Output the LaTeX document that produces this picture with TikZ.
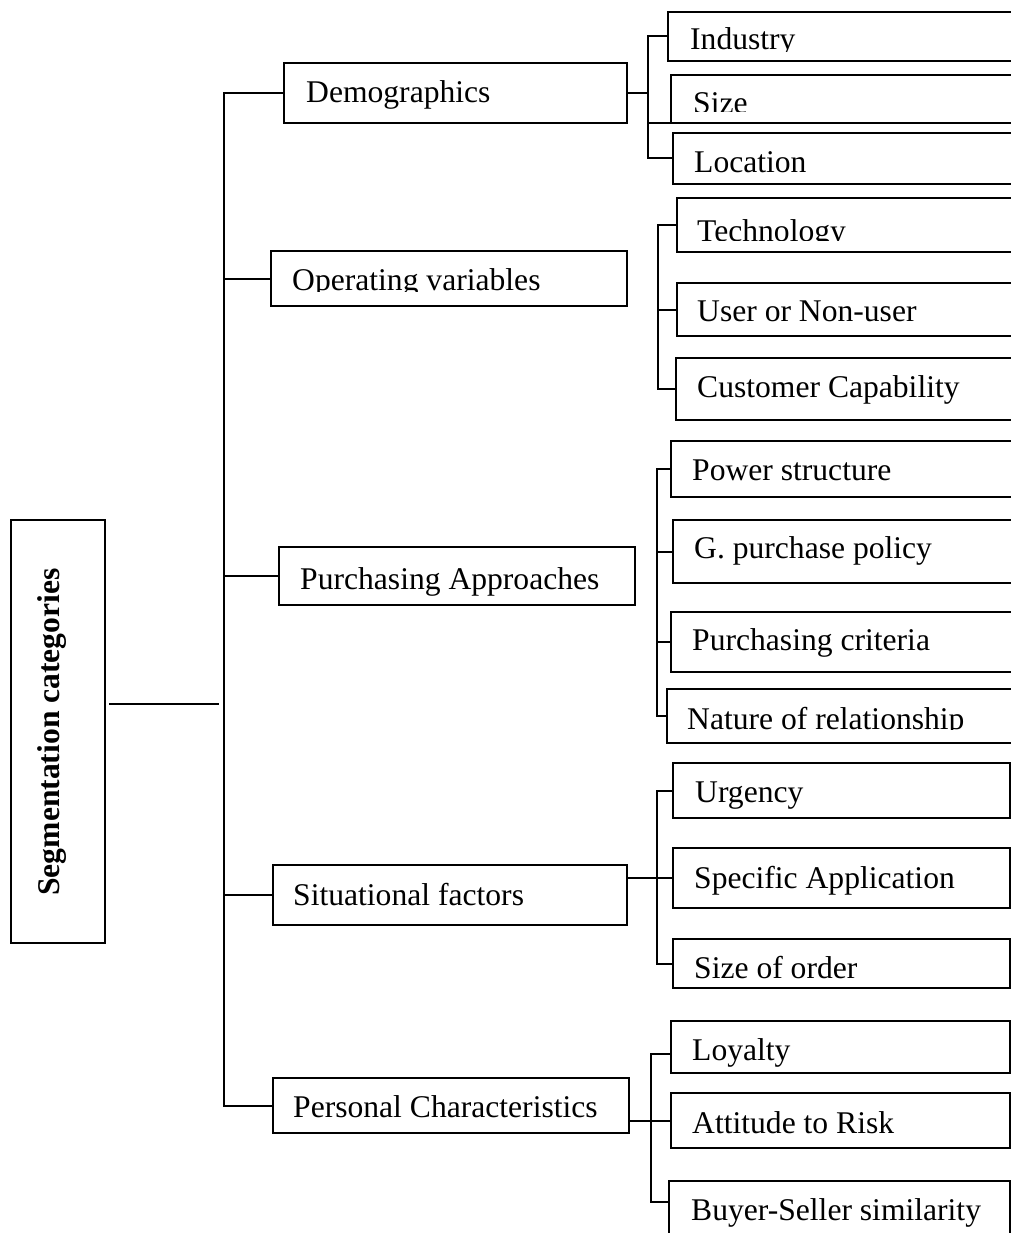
\documentclass[tikz,border=0pt]{standalone}
\usepackage{fontspec}
\setmainfont{Liberation Serif}
\usetikzlibrary{calc}

% box with a left-aligned label set on a given baseline
\newcommand{\segbox}[8]{%
  \node[box, minimum width={#4-#2}, minimum height={#5-#3}] (#1) at (#2,#3) {};
  \node[lbl] (#1-t) at (#6,#7) {#8};}
% same, but the label is cut off below a given height
\newcommand{\segcutbox}[9]{%
  \node[box, minimum width={#4-#2}, minimum height={#5-#3}] (#1) at (#2,#3) {};
  \begin{scope}
    \clip (#2,#3) rectangle (#4,#9);
    \node[lbl] (#1-t) at (#6,#7) {#8};
  \end{scope}}

\begin{document}
\begin{tikzpicture}[x=1pt,y=-1pt,
  box/.style={draw, line width=2pt, inner sep=0pt, outer sep=0pt, anchor=north west},
  lbl/.style={anchor=base west, inner sep=0pt, font=\fontsize{31.6}{36}\selectfont},
  wire/.style={line width=2pt}]
\useasboundingbox (0,0) rectangle (1011,1233);
\clip (0,0) rectangle (1011,1233);

% root
\node[box, minimum width=94, minimum height=423] (root) at (11,520) {};
\node[anchor=base, rotate=90, inner sep=0pt,
      font=\fontsize{31.6}{36}\selectfont\bfseries] (root-t) at (59,732) {Segmentation categories};

% categories
\segbox{dem}{284}{63}{627}{123}{306}{103}{Demographics}
\segcutbox{opv}{271}{251}{627}{306}{292}{290}{Operating variables}{291.5}
\segbox{pur}{279}{547}{635}{605}{300}{589}{Purchasing Approaches}
\segbox{sit}{273}{865}{627}{925}{293}{905}{Situational factors}
\segbox{per}{273}{1078}{629}{1133}{293}{1117}{Personal Characteristics}

% demographics
\segcutbox{ind}{668}{12}{1016}{61}{690}{50}{Industry}{52}
\segcutbox{siz}{671}{75}{1016}{123}{693}{114}{Size}{112}
\segbox{loc}{673}{133}{1016}{184}{694}{173}{Location}
% operating variables
\segcutbox{tec}{677}{198}{1016}{252}{697}{241}{Technology}{241}
\segbox{usr}{677}{283}{1016}{336}{697}{321}{User or Non-user}
\segbox{cap}{676}{358}{1016}{420}{697}{397}{Customer Capability}
% purchasing approaches
\segbox{pow}{671}{441}{1016}{497}{692}{480}{Power structure}
\segbox{gpp}{673}{520}{1016}{583}{694}{558}{G. purchase policy}
\segbox{crit}{671}{612}{1016}{672}{692}{650}{Purchasing criteria}
\segcutbox{nat}{667}{689}{1016}{743}{687}{729}{Nature of relationship}{729.5}
% situational factors
\segbox{urg}{673}{763}{1010}{818}{695}{802}{Urgency}
\segbox{spec}{673}{848}{1010}{908}{694}{888}{Specific Application}
\segbox{soo}{673}{939}{1010}{988}{694}{978}{Size of order}
% personal characteristics
\segbox{loy}{671}{1021}{1010}{1073}{692}{1060}{Loyalty}
\segbox{att}{671}{1093}{1010}{1148}{692}{1133}{Attitude to Risk}
\segbox{buy}{669}{1181}{1010}{1250}{691}{1220}{Buyer-Seller similarity}

% main trunk
\coordinate (rootout) at (109,704);
\coordinate (trunkin) at (219,704);
\draw[wire] (rootout) -- (trunkin);
\coordinate (trunk) at (224,0);
\draw[wire] (dem.west) -- (dem.west -| trunk) -- (per.west -| trunk) -- (per.west);
\foreach \n in {opv,pur,sit} \draw[wire] (\n.west) -- (\n.west -| trunk);

% demographics branch
\coordinate (b1) at (648,0);
\draw[wire] (dem.east) -- (dem.east -| b1);
\draw[wire] (ind.west) -- (ind.west -| b1) -- (loc.west -| b1) -- (loc.west);
\draw[wire] (siz.south west) -- (siz.south west -| b1);

% operating variables branch
\coordinate (b2) at (658,0);
\draw[wire] (tec.west) -- (tec.west -| b2) -- (cap.west -| b2) -- (cap.west);
\draw[wire] (usr.west) -- (usr.west -| b2);

% purchasing approaches branch
\coordinate (b3) at (657,0);
\draw[wire] (pow.west) -- (pow.west -| b3) -- (nat.west -| b3) -- (nat.west);
\foreach \n in {gpp,crit} \draw[wire] (\n.west) -- (\n.west -| b3);

% situational factors branch
\coordinate (b4) at (657,0);
\draw[wire] (urg.west) -- (urg.west -| b4) -- (soo.west -| b4) -- (soo.west);
\draw[wire] (sit.east |- spec.west) -- (spec.west);

% personal characteristics branch
\coordinate (b5) at (651,0);
\coordinate (buyin) at ($(buy.north west)+(0,21)$);
\coordinate (loyin) at ($(loy.west)+(0,7)$);
\draw[wire] (loyin) -- (loyin -| b5) -- (buyin -| b5) -- (buyin);
\draw[wire] (per.east |- att.west) -- (att.west);
\end{tikzpicture}
\end{document}
